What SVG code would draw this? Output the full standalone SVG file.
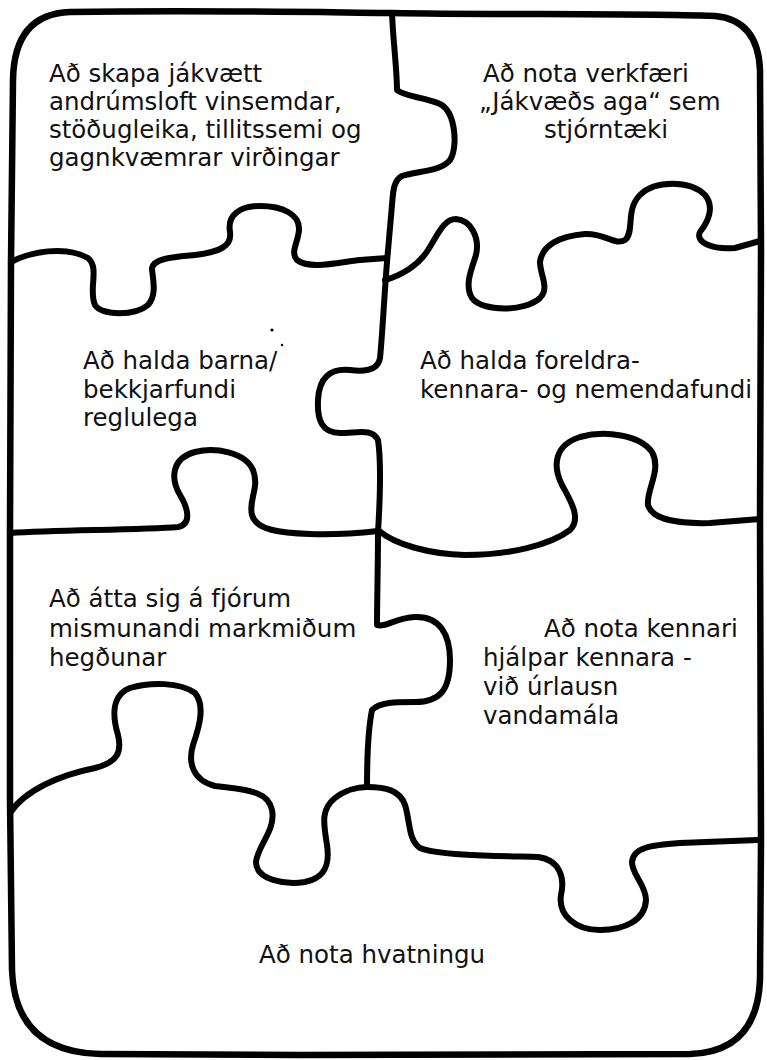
<svg xmlns="http://www.w3.org/2000/svg" width="767" height="1060" viewBox="0 0 767 1060">
<style>
.ln{fill:none;stroke:#000;stroke-width:6;stroke-linecap:round;stroke-linejoin:round}
.bd{stroke-width:6.5}
.t{font-family:"DejaVu Sans",Verdana,sans-serif;font-size:24.5px;fill:#111}
</style>
<rect width="767" height="1060" fill="#fff"/>
<g id="connectors">
<path id="border" class="ln bd" d="M 70,12 C 200,10 300,12 392,13 C 500,15 620,13 715,16 Q 758,20 760,70 L 761,250 L 760,520 L 761,840 L 760,980 Q 757,1052 690,1054 L 300,1055 L 100,1054 Q 15,1052 12,970 L 10,800 L 10,530 L 11,262 L 13,80 Q 14,14 70,12 Z"/>
<path id="v1" class="ln" d="M 392,13 C 393,40 397,70 397,90 C 405,97 425,97 440,104 C 456,112 458,148 450,160 C 442,171 418,171 402,176 C 394,180 393,190 392,205 L 387,262"/>
<path id="h1l" class="ln" d="M 11,262 C 30,252 65,245 88,258 C 100,268 88,290 95,305 C 102,316 135,316 148,305 C 158,294 152,276 152,268 C 154,258 175,257 195,255 C 220,252 232,246 230,232 C 227,215 240,206 260,206 C 282,206 300,214 299,230 C 298,243 290,252 297,260 C 310,270 340,262 360,260 L 387,258"/>
<path id="v2" class="ln" d="M 387,262 C 384,300 382,340 380,358 C 378,370 365,372 350,370 C 330,368 319,378 318,400 C 317,420 322,433 340,433 C 358,433 372,428 378,440 C 381,460 380,500 378,532"/>
<path id="h1r" class="ln" d="M 385,280 C 400,276 418,266 428,250 C 438,234 444,219 456,219 C 471,220 480,238 476,255 C 472,268 464,285 472,298 C 482,312 525,312 540,298 C 550,288 540,275 540,262 C 542,245 560,236 585,234 C 605,233 615,246 625,240 C 635,232 625,210 640,195 C 655,180 690,180 705,195 C 715,207 708,222 700,232 C 695,242 712,250 735,248 L 760,241"/>
<path id="v3" class="ln" d="M 378,532 C 378,570 377,600 377,625 C 385,628 395,618 415,617 C 440,616 450,635 450,660 C 450,690 440,702 415,702 C 395,702 380,702 372,710 C 368,730 367,760 367,787"/>
<path id="h2l" class="ln" d="M 10,533 C 60,530 140,530 178,527 C 192,524 188,508 180,495 C 170,478 172,458 195,452 C 215,447 245,452 253,470 C 260,488 248,500 252,515 C 256,530 280,533 310,534 C 340,535 360,533 378,531"/>
<path id="h2r" class="ln" d="M 378,530 C 395,545 430,554 465,555 C 510,555 550,545 570,530 C 582,518 570,500 562,485 C 552,465 555,445 580,437 C 605,430 640,435 652,452 C 662,470 646,490 648,505 C 652,520 680,524 710,523 L 760,519"/>
<path id="h3" class="ln" d="M 10,813 C 25,790 60,775 95,768 C 118,762 122,752 118,735 C 112,715 112,695 130,688 C 150,682 180,682 195,693 C 205,705 200,725 193,745 C 188,762 192,780 215,786 C 245,790 268,790 272,810 C 276,830 258,845 256,862 C 256,880 285,885 305,882 C 325,878 330,865 327,845 C 324,825 320,810 335,798 C 345,790 358,787 367,787 C 385,787 400,790 405,805 C 410,820 408,840 420,848 C 440,856 500,856 538,857 C 560,860 565,878 561,895 C 558,915 575,930 600,930 C 625,930 645,920 646,900 C 646,885 632,875 632,862 C 633,848 650,845 680,843 L 758,840"/>
<circle cx="272" cy="330" r="1.6" fill="#000"/>
<circle cx="282" cy="345" r="1.2" fill="#000"/>
</g>
<g id="piece-1">
<text class="t" x="49" y="82">Að skapa jákvætt</text>
<text class="t" x="49" y="110">andrúmsloft vinsemdar,</text>
<text class="t" x="49" y="138">stöðugleika, tillitssemi og</text>
<text class="t" x="49" y="166">gagnkvæmrar virðingar</text>
</g>
<g id="piece-2">
<text class="t" x="483" y="82">Að nota verkfæri</text>
<text class="t" x="479" y="110">„Jákvæðs aga“ sem</text>
<text class="t" x="544" y="138">stjórntæki</text>
</g>
<g id="piece-3">
<text class="t" x="83" y="369">Að halda barna/</text>
<text class="t" x="83" y="398">bekkjarfundi</text>
<text class="t" x="83" y="426">reglulega</text>
</g>
<g id="piece-4">
<text class="t" x="420" y="369">Að halda foreldra-</text>
<text class="t" x="420" y="398">kennara- og nemendafundi</text>
</g>
<g id="piece-5">
<text class="t" x="49" y="607">Að átta sig á fjórum</text>
<text class="t" x="49" y="637">mismunandi markmiðum</text>
<text class="t" x="49" y="666">hegðunar</text>
</g>
<g id="piece-6">
<text class="t" x="544" y="637">Að nota kennari</text>
<text class="t" x="483" y="666">hjálpar kennara -</text>
<text class="t" x="483" y="695">við úrlausn</text>
<text class="t" x="483" y="724">vandamála</text>
</g>
<g id="piece-7">
<text class="t" x="259" y="963">Að nota hvatningu</text>
</g>
</svg>
